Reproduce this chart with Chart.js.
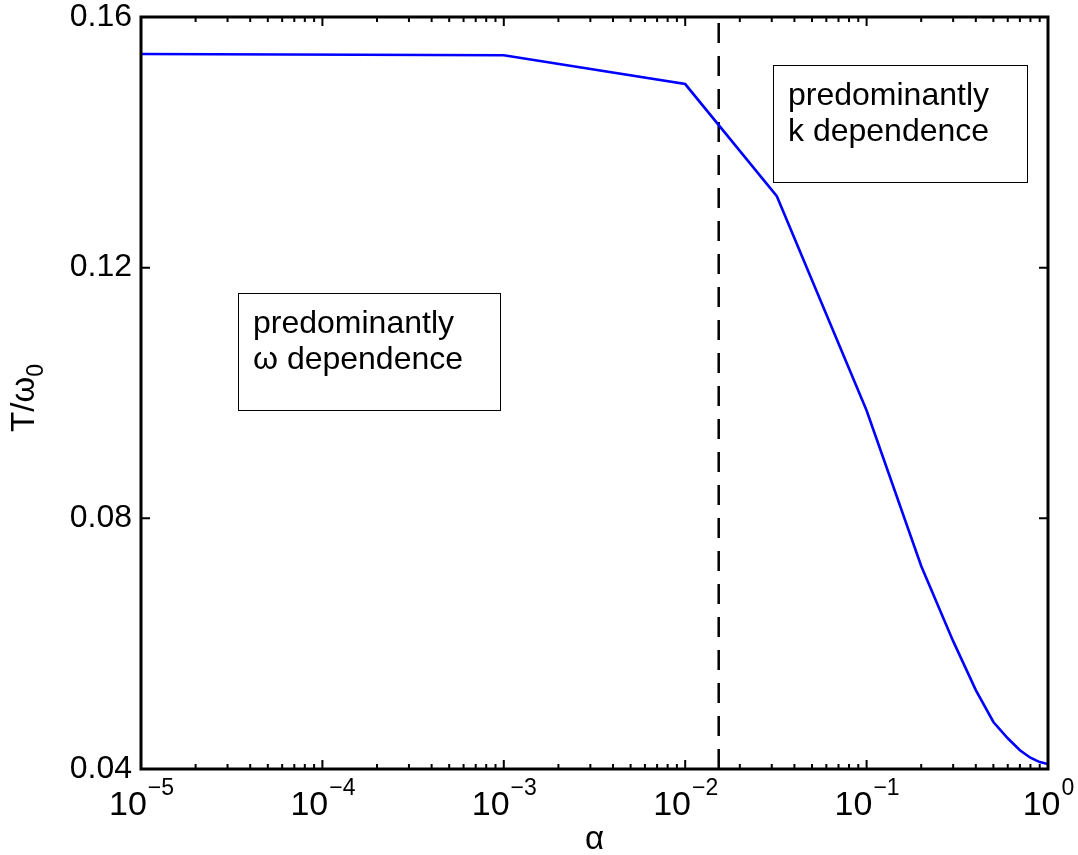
<!DOCTYPE html>
<html>
<head>
<meta charset="utf-8">
<script src="https://cdn.jsdelivr.net/npm/chart.js@4"></script>
<style>
  html, body { margin: 0; padding: 0; background: #fff; }
  #wrap { width: 1078px; height: 855px; }
</style>
</head>
<body>
<div id="wrap"><canvas id="tChart" width="1078" height="855"></canvas></div>
<script>
// alpha values and T/omega0
const alphaVals = [1e-5, 1e-3, 1e-2, 0.032, 0.1, 0.2, 0.3, 0.4, 0.5, 0.6, 0.7, 0.8, 0.9, 1.0];
const tempVals  = [0.1541, 0.1539, 0.1493, 0.1314, 0.0972, 0.0724, 0.0604, 0.0526, 0.0475, 0.0449, 0.0430, 0.0418, 0.0411, 0.0408];

const crossoverAlpha = 0.0153;   // dashed vertical line
const xDecades = [-5, -4, -3, -2, -1, 0];
const yTicks = [0.04, 0.08, 0.12, 0.16];

// text boxes, anchored at their top-left corner in data coordinates
const boxOmega = { alpha: 3.43e-5, t: 0.1159, w: 262, lines: ['predominantly', 'ω dependence'] };
const boxK = { alpha: 0.0305, t: 0.1523, w: 254, lines: ['predominantly', 'k dependence'] };

const FONT = '"Liberation Sans", Arial, Helvetica, sans-serif';

const matlabAxes = {
    id: 'matlabAxes',
    afterDatasetsDraw(chart) {
        const ctx = chart.ctx;
        const xs = chart.scales.x, ys = chart.scales.y;
        const a = chart.chartArea;
        ctx.save();
        ctx.strokeStyle = '#000';
        ctx.fillStyle = '#000';

        // ticks, inward on all four sides
        ctx.lineWidth = 2;
        ctx.beginPath();
        xDecades.forEach((d, i) => {
            const px = xs.getPixelForValue(Math.pow(10, d));
            ctx.moveTo(px, a.bottom); ctx.lineTo(px, a.bottom - 9);
            ctx.moveTo(px, a.top); ctx.lineTo(px, a.top + 9);
            if (i < xDecades.length - 1) {
                for (let m = 2; m <= 9; m++) {
                    const mx = xs.getPixelForValue(m * Math.pow(10, d));
                    ctx.moveTo(mx, a.bottom); ctx.lineTo(mx, a.bottom - 5);
                    ctx.moveTo(mx, a.top); ctx.lineTo(mx, a.top + 5);
                }
            }
        });
        yTicks.forEach(v => {
            const py = ys.getPixelForValue(v);
            ctx.moveTo(a.left, py); ctx.lineTo(a.left + 9, py);
            ctx.moveTo(a.right, py); ctx.lineTo(a.right - 9, py);
        });
        ctx.stroke();

        // frame
        ctx.lineWidth = 3;
        ctx.strokeRect(a.left, a.top, a.right - a.left, a.bottom - a.top);

        // y tick labels
        ctx.font = '32px ' + FONT;
        ctx.textAlign = 'right';
        ctx.textBaseline = 'middle';
        yTicks.forEach(v => {
            ctx.fillText(v.toFixed(2), a.left - 9, ys.getPixelForValue(v));
        });

        // x tick labels 10^n
        ctx.textBaseline = 'alphabetic';
        xDecades.forEach(d => {
            const px = xs.getPixelForValue(Math.pow(10, d));
            const exp = d === 0 ? '0' : '\u2212' + Math.abs(d);
            ctx.font = '34px ' + FONT;
            const wBase = ctx.measureText('10').width;
            ctx.font = '23px ' + FONT;
            const wExp = ctx.measureText(exp).width;
            const start = px - (wBase + wExp) / 2;
            ctx.textAlign = 'left';
            ctx.font = '34px ' + FONT;
            ctx.fillText('10', start, 815);
            ctx.font = '23px ' + FONT;
            ctx.fillText(exp, start + wBase + 1, 795);
        });

        // axis titles
        ctx.font = '33px ' + FONT;
        ctx.textAlign = 'center';
        ctx.fillText('α', (a.left + a.right) / 2, 849);

        ctx.save();
        ctx.translate(34, 398);
        ctx.rotate(-Math.PI / 2);
        ctx.textAlign = 'left';
        ctx.font = '33px ' + FONT;
        const wT = ctx.measureText('T/ω').width;
        ctx.font = '23px ' + FONT;
        const w0 = ctx.measureText('0').width;
        const s = -(wT + w0) / 2;
        ctx.font = '33px ' + FONT;
        ctx.fillText('T/ω', s, 0);
        ctx.font = '23px ' + FONT;
        ctx.fillText('0', s + wT, 9);
        ctx.restore();

        // annotation boxes
        [boxOmega, boxK].forEach(b => {
            const bx = Math.round(xs.getPixelForValue(b.alpha));
            const by = Math.round(ys.getPixelForValue(b.t));
            const h = 117;
            ctx.fillStyle = '#fff';
            ctx.fillRect(bx, by, b.w, h);
            ctx.lineWidth = 1;
            ctx.strokeStyle = '#000';
            ctx.strokeRect(bx + 0.5, by + 0.5, b.w, h);
            ctx.fillStyle = '#000';
            ctx.textAlign = 'left';
            ctx.font = '32px ' + FONT;
            b.lines.forEach((l, i) => ctx.fillText(l, bx + 15, by + 40 + i * 36));
        });
        ctx.restore();
    }
};

const ctx = document.getElementById('tChart').getContext('2d');
new Chart(ctx, {
    type: 'line',
    data: {
        datasets: [
            {
                label: 'T/omega0',
                data: alphaVals.map((a, i) => ({ x: a, y: tempVals[i] })),
                borderColor: '#0000ff',
                borderWidth: 2.6,
                pointRadius: 0,
                tension: 0,
                fill: false
            },
            {
                label: 'crossover',
                data: [{ x: crossoverAlpha, y: 0.04 }, { x: crossoverAlpha, y: 0.16 }],
                borderColor: '#000',
                borderWidth: 2.5,
                borderDash: [20, 13],
                pointRadius: 0,
                fill: false
            }
        ]
    },
    options: {
        responsive: false,
        animation: false,
        layout: { padding: { left: 133, top: 17, right: 30, bottom: 78 } },
        plugins: { legend: { display: false }, tooltip: { enabled: false } },
        scales: {
            x: {
                type: 'logarithmic',
                min: 1e-5, max: 1,
                grid: { display: false },
                border: { display: false },
                ticks: { display: false }
            },
            y: {
                min: 0.04, max: 0.16,
                grid: { display: false },
                border: { display: false },
                ticks: { display: false }
            }
        }
    },
    plugins: [matlabAxes]
});
</script>
</body>
</html>
